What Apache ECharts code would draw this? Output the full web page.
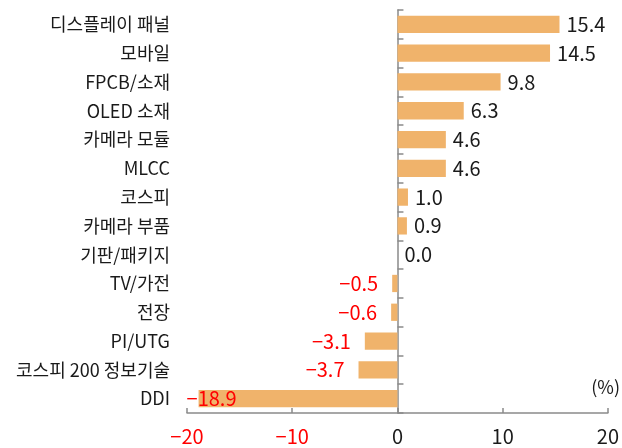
<!DOCTYPE html>
<html>
<head>
<meta charset="utf-8">
<script src="https://cdn.jsdelivr.net/npm/echarts@6/dist/echarts.min.js"></script>
<style>
  html, body { margin: 0; padding: 0; background: #fff; }
  #chart { width: 622px; height: 448px; }
</style>
</head>
<body>
<div id="chart"></div>
<script>
const categories = ['디스플레이 패널', '모바일', 'FPCB/소재', 'OLED 소재', '카메라 모듈', 'MLCC', '코스피',
  '카메라 부품', '기판/패키지', 'TV/가전', '전장', 'PI/UTG', '코스피 200 정보기술', 'DDI']
const values = [15.4, 14.5, 9.8, 6.3, 4.6, 4.6, 1.0, 0.9, 0.0, -0.5, -0.6, -3.1, -3.7, -18.9]
const unitLabel = '(%)'

const FONT = '"Noto Sans CJK KR", "Noto Sans", sans-serif'
const fmt = v => (v < 0 ? '\u2212' : '') + Math.abs(v).toFixed(1)

const chart = echarts.init(document.getElementById('chart'), null, { renderer: 'canvas' })

// 막대 라벨: 양수는 오른쪽, 음수는 왼쪽(빨강)
const barData = values.map((v, i) => {
  const item = { value: v }
  if (v < 0) {
    item.label = { position: 'left', distance: 14, color: '#ff0000' }
    if (v < -15) item.label = { position: 'insideLeft', distance: 5, offset: [-17, 0], color: '#ff0000' }
  }
  return item
})

const axisGray = '#8a8a8a'

chart.setOption({
  animation: false,
  grid: { left: 187, right: 9, top: 10, bottom: 35, containLabel: false },
  xAxis: {
    type: 'value',
    min: -20, max: 20, interval: 10,
    axisLine: { show: true, lineStyle: { color: axisGray, width: 1.5 } },
    axisTick: { show: true, inside: true, length: 5, lineStyle: { color: axisGray, width: 1.5 } },
    splitLine: { show: false },
    axisLabel: {
      margin: 13,
      fontFamily: FONT, fontSize: 20,
      color: v => (v < 0 ? '#ff0000' : '#1a1a1a'),
      formatter: v => (v < 0 ? '\u2212' : '') + Math.abs(v)
    }
  },
  yAxis: [
    {
      type: 'category', data: categories, inverse: true,
      axisLine: { show: false, onZero: false },
      axisTick: { show: false },
      axisLabel: { margin: 17, fontFamily: FONT, fontSize: 18, color: '#1a1a1a' }
    },
    {
      type: 'category', data: categories, inverse: true, position: 'left',
      axisLine: { show: true, onZero: true, lineStyle: { color: axisGray, width: 1.5 } },
      axisTick: { show: true, inside: true, length: 6, lineStyle: { color: axisGray, width: 1.5 } },
      axisLabel: { show: false }
    }
  ],
  graphic: [{
    type: 'text', right: 2, top: 378,
    style: { text: unitLabel, fontFamily: FONT, fontSize: 18, fill: '#1a1a1a' }
  }],
  series: [{
    type: 'bar',
    data: barData,
    yAxisIndex: 0,
    barCategoryGap: '40%',
    itemStyle: { color: '#f0b36b' },
    label: {
      show: true, position: 'right', distance: 7,
      fontFamily: FONT, fontSize: 20, color: '#1a1a1a',
      formatter: p => fmt(p.value)
    }
  }]
})
</script>
</body>
</html>
